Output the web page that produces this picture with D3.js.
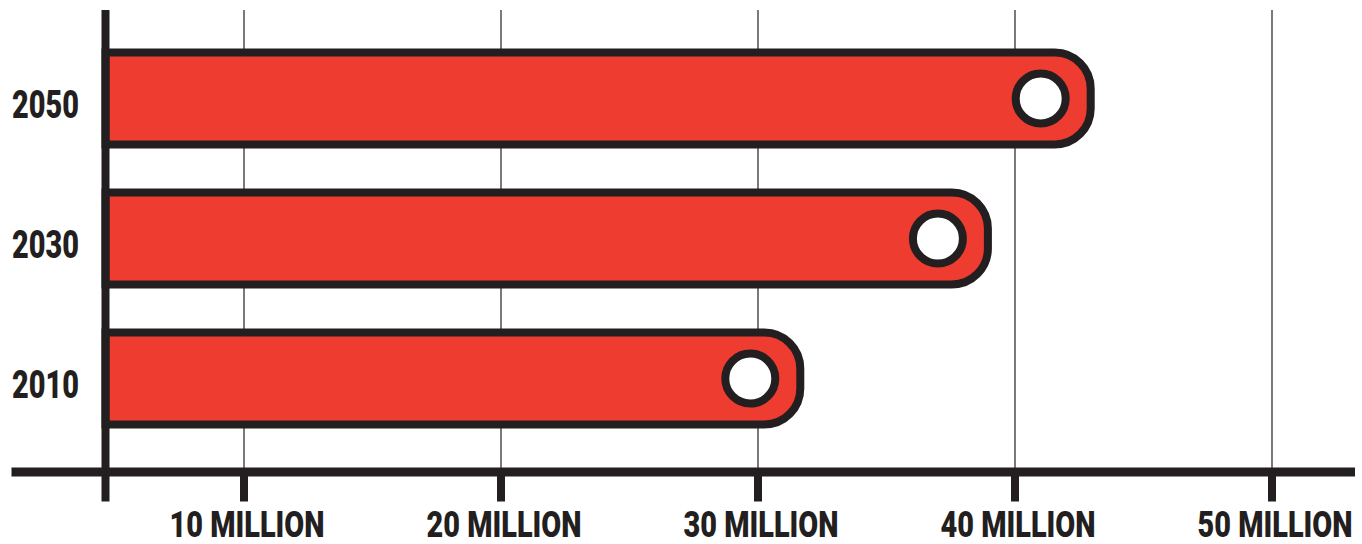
<!DOCTYPE html>
<html>
<head>
<meta charset="utf-8">
<script src="https://cdn.jsdelivr.net/npm/d3@7"></script>
<style>
  body { margin: 0; background: #fff; }
  text { font-family: Roboto, "DejaVu Sans Condensed", sans-serif; font-weight: 900; fill: #231f20; }
</style>
</head>
<body>
<svg id="chart"></svg>
<script>
// Data (millions)
const years = ["2050", "2030", "2010"];
const values = [41, 37, 29.7];
const ticks = [10, 20, 30, 40, 50];
const tickLabels = ["10 MILLION", "20 MILLION", "30 MILLION", "40 MILLION", "50 MILLION"];

const width = 1362;
const height = 544;
const ink = "#231f20";
const red = "#ef3c30";

const axisX = 105.5;   // vertical axis position
const axisY = 472;     // horizontal axis position
const topY = 10;

const svg = d3.select("#chart")
    .attr("width", width)
    .attr("height", height);

// x scale, anchored on the tick positions
const x = d3.scaleLinear()
    .domain([10, 50])
    .range([244, 1272]);

const y = d3.scaleBand()
    .domain(years)
    .range([28.5, 448.5])
    .paddingInner(0.286)
    .paddingOuter(0.143);

// thin gridlines
svg.selectAll(".grid")
    .data(ticks)
  .enter().append("line")
    .attr("class", "grid")
    .attr("x1", d => x(d)).attr("x2", d => x(d))
    .attr("y1", topY).attr("y2", axisY)
    .attr("stroke", ink)
    .attr("stroke-width", 1.2);

// bars with a rounded right end
const bars = svg.selectAll(".bar")
    .data(values)
  .enter().append("g")
    .attr("class", "bar");

const sw = 8;
bars.append("path")
    .attr("d", (d, i) => {
      const y0 = y(years[i]) + sw / 2;
      const h = y.bandwidth() - sw;
      const x0 = axisX;
      const x1 = x(d) + 50;
      const r = 36;
      return `M${x0},${y0} H${x1 - r} A${r},${r} 0 0 1 ${x1},${y0 + r} V${y0 + h - r} A${r},${r} 0 0 1 ${x1 - r},${y0 + h} H${x0} Z`;
    })
    .attr("fill", red)
    .attr("stroke", ink)
    .attr("stroke-width", sw);

// value markers
bars.append("circle")
    .attr("cx", d => x(d))
    .attr("cy", (d, i) => y(years[i]) + y.bandwidth() / 2)
    .attr("r", 25)
    .attr("fill", "#fff")
    .attr("stroke", ink)
    .attr("stroke-width", sw);

// axes
svg.append("line")
    .attr("x1", axisX).attr("x2", axisX)
    .attr("y1", topY).attr("y2", 501.5)
    .attr("stroke", ink)
    .attr("stroke-width", 8);

svg.append("line")
    .attr("x1", 11.5).attr("x2", 1355)
    .attr("y1", axisY).attr("y2", axisY)
    .attr("stroke", ink)
    .attr("stroke-width", 9);

svg.selectAll(".tick")
    .data(ticks)
  .enter().append("line")
    .attr("class", "tick")
    .attr("x1", d => x(d)).attr("x2", d => x(d))
    .attr("y1", axisY).attr("y2", 501.5)
    .attr("stroke", ink)
    .attr("stroke-width", 8);

// tick labels (condensed to match the narrow display face)
svg.selectAll(".tick-label")
    .data(ticks)
  .enter().append("text")
    .attr("class", "tick-label")
    .attr("x", d => x(d) + 3)
    .attr("y", 537)
    .attr("text-anchor", "middle")
    .attr("textLength", 155)
    .attr("lengthAdjust", "spacingAndGlyphs")
    .style("font-size", "37px")
    .text((d, i) => tickLabels[i]);

// year labels
svg.selectAll(".year")
    .data(years)
  .enter().append("text")
    .attr("class", "year")
    .attr("x", 12)
    .attr("y", d => y(d) + y.bandwidth() / 2 + 19.5)
    .attr("textLength", 67)
    .attr("lengthAdjust", "spacingAndGlyphs")
    .style("font-size", "39.5px")
    .text(d => d);
</script>
</body>
</html>
